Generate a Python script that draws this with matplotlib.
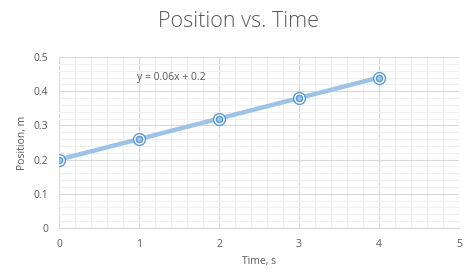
import matplotlib
matplotlib.use("Agg")
import matplotlib.pyplot as plt
import numpy as np
from matplotlib.ticker import MultipleLocator, FuncFormatter

time_s = [0, 1, 2, 3, 4]
position_m = [0.2, 0.26, 0.32, 0.38, 0.44]
slope, intercept = 0.06, 0.2
equation = "y = 0.06x + 0.2"

plt.rcParams["font.family"] = ["Open Sans", "DejaVu Sans"]
grey = "#595959"

fig = plt.figure(figsize=(4.76, 2.73), dpi=100)
ax = fig.add_axes([0.124, 0.165, 0.840, 0.626])

# trendline
xt = np.array([time_s[0], time_s[-1]])
ax.plot(xt, slope * xt + intercept, color="#9DC3E6", lw=3.2, solid_capstyle="butt", zorder=3)
# markers: ring with inner dot
ax.plot(time_s, position_m, ls="none", marker="o", ms=8.5, mfc="white", mec="#5B9BD5", mew=1.0, zorder=4)
ax.plot(time_s, position_m, ls="none", marker="o", ms=4.5, mfc="#9DC3E6", mec="#5B9BD5", mew=1.0, zorder=5)

ax.set_xlim(0, 5)
ax.set_ylim(0, 0.5)
ax.xaxis.set_major_locator(MultipleLocator(1))
ax.xaxis.set_minor_locator(MultipleLocator(0.2))
ax.yaxis.set_major_locator(MultipleLocator(0.1))
ax.yaxis.set_minor_locator(MultipleLocator(0.02))
ax.yaxis.set_major_formatter(FuncFormatter(lambda v, p: "0" if abs(v) < 1e-9 else f"{v:.1f}"))
ax.grid(which="major", color="#D9D9D9", lw=0.8)
ax.grid(which="minor", color="#F0F0F0", lw=0.8)
ax.set_axisbelow(True)
for s in ax.spines.values():
    s.set_visible(False)
ax.spines["bottom"].set_visible(True)
ax.spines["bottom"].set_color("#D9D9D9")
ax.tick_params(which="both", length=0, labelsize=7.5, colors=grey, pad=8)

ax.set_xlabel("Time, s", fontsize=7.5, color=grey, labelpad=4)
ax.set_ylabel("Position, m", fontsize=7.5, color=grey, labelpad=4)
fig.suptitle("Position vs. Time", fontsize=15.5, color=grey, y=0.96, fontweight="light")
ax.text(0.98, 0.441, equation, fontsize=7.5, color=grey, va="center", ha="left")

fig.savefig("out.png")
